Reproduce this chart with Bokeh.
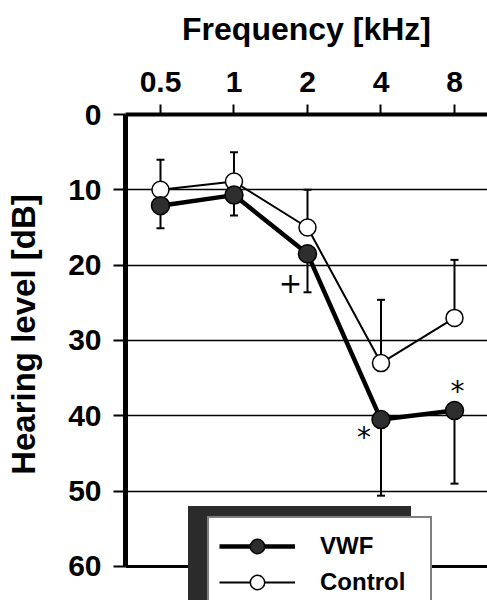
import numpy as np
from bokeh.plotting import figure
from bokeh.models import (Range1d, FixedTicker, Whisker, TeeHead, Span,
                          ColumnDataSource, Legend, LegendItem)
from bokeh.core.properties import value
from bokeh.embed import file_html
from bokeh.resources import INLINE

# ---------------- data ----------------
freq_khz = [0.5, 1, 2, 4, 8]
freq_labels = ["0.5", "1", "2", "4", "8"]
vwf_mean = [12.1, 10.7, 18.5, 40.5, 39.3]
vwf_sd = [3.0, 2.7, 5.1, 10.1, 9.7]
control_mean = [10.0, 8.9, 15.0, 33.0, 27.0]
control_sd = [4.0, 3.9, 5.0, 8.4, 7.7]
level_ticks = [0, 10, 20, 30, 40, 50, 60]
sig_freq = [2, 4, 8]
sig_mark = ["+", "*", "*"]

# ---------------- styling ----------------
FONT = "Liberation Sans"
sig_dx = [-17, -17, 3]
sig_dy = [29, 18, -19]

src = ColumnDataSource(dict(
    f=freq_khz,
    vm=vwf_mean,
    vlo=[m + s for m, s in zip(vwf_mean, vwf_sd)],
    cm=control_mean,
    chi=[m - s for m, s in zip(control_mean, control_sd)],
))

x_lo = 2 ** -1.476
x_hi = 2 ** 3.449
y_bottom = level_ticks[-1] + 34 / 7.533   # frame runs past the 60 dB line to the page bottom

p = figure(width=487, height=600, x_axis_type="log", x_axis_location="above",
           x_range=Range1d(x_lo, x_hi), y_range=Range1d(y_bottom, level_ticks[0]),
           output_backend="svg", toolbar_location=None,
           min_border_left=125, min_border_top=114, min_border_right=0,
           min_border_bottom=0)
p.outline_line_color = None
p.background_fill_color = "white"
p.border_fill_color = "white"

# top axis
xa = p.xaxis[0]
xa.ticker = FixedTicker(ticks=freq_khz)
xa.major_label_overrides = {f: l for f, l in zip(freq_khz, freq_labels)}
xa.axis_label = "Frequency [kHz]"
xa.axis_label_text_font = FONT
xa.axis_label_text_font_style = "bold"
xa.axis_label_text_font_size = "32px"
xa.axis_label_text_color = "black"
xa.axis_label_standoff = 22
xa.major_label_text_font = FONT
xa.major_label_text_font_style = "bold"
xa.major_label_text_font_size = "30px"
xa.major_label_text_color = "black"
xa.major_label_standoff = 13
xa.axis_line_width = 4
xa.axis_line_color = "black"
xa.major_tick_out = 10
xa.major_tick_in = 0
xa.major_tick_line_width = 2
xa.major_tick_line_color = "black"
xa.minor_tick_out = 0
xa.minor_tick_in = 0
xa.minor_tick_line_color = None

# left axis (label padded with no-break spaces so it centres on the 0-60 dB span)
ya = p.yaxis[0]
ya.ticker = FixedTicker(ticks=level_ticks)
ya.bounds = (level_ticks[0], level_ticks[-1])
ya.axis_label = "\u00a0" * 5 + "Hearing level [dB]"
ya.axis_label_text_font = FONT
ya.axis_label_text_font_style = "bold"
ya.axis_label_text_font_size = "33px"
ya.axis_label_text_color = "black"
ya.axis_label_standoff = 23
ya.major_label_text_font = FONT
ya.major_label_text_font_style = "bold"
ya.major_label_text_font_size = "30px"
ya.major_label_text_color = "black"
ya.major_label_standoff = 12
ya.axis_line_width = 5
ya.axis_line_color = "black"
ya.major_tick_out = 12
ya.major_tick_in = 0
ya.major_tick_line_width = 2
ya.major_tick_line_color = "black"
ya.minor_tick_line_color = None

p.xgrid.visible = False
p.ygrid.ticker = FixedTicker(ticks=level_ticks)
p.ygrid.grid_line_color = "black"
p.ygrid.grid_line_width = 1.5

# bottom frame line at the 60 dB limit
p.add_layout(Span(location=level_ticks[-1], dimension="width",
                  line_color="black", line_width=3))

# error bars
cw = Whisker(base="f", lower="cm", upper="chi", source=src, dimension="height",
             line_width=2, line_color="black", lower_head=None,
             upper_head=TeeHead(size=8, line_width=2), level="underlay")
vw = Whisker(base="f", lower="vm", upper="vlo", source=src, dimension="height",
             line_width=2, line_color="black", lower_head=None,
             upper_head=TeeHead(size=8, line_width=2), level="underlay")
p.add_layout(cw)
p.add_layout(vw)

# lines and markers
c_line = p.line("f", "cm", source=src, line_color="black", line_width=2)
v_line = p.line("f", "vm", source=src, line_color="black", line_width=4.5)
c_pts = p.scatter("f", "cm", source=src, size=17, fill_color="white",
                  line_color="black", line_width=1.5)
v_pts = p.scatter("f", "vm", source=src, size=18, fill_color="#2e2e2e",
                  line_color="black", line_width=1.5)

# significance marks
sig_y = [vwf_mean[freq_khz.index(f)] for f in sig_freq]
p.text(x=sig_freq, y=sig_y, text=sig_mark, x_offset=sig_dx, y_offset=sig_dy,
       text_align="center", text_baseline="middle",
       text_font=value("DejaVu Sans"), text_font_size="28px", text_color="black")

# legend with shadow (shadow = a text-less copy of the legend box)
dummy = p.line(x=[], y=[], line_alpha=0)
common = dict(glyph_width=76, glyph_height=36, label_height=36, label_width=100,
              label_standoff=25, padding=10, spacing=-1, margin=0,
              label_text_font=FONT, label_text_font_style="bold",
              label_text_font_size="24px")
shadow = Legend(items=[LegendItem(label="", renderers=[dummy]),
                       LegendItem(label="", renderers=[dummy])],
                location=(63, 0), background_fill_color="#2b2b2b",
                background_fill_alpha=1, border_line_color="#2b2b2b",
                label_text_color="#2b2b2b", **common)
main = Legend(items=[LegendItem(label="VWF", renderers=[v_line, v_pts]),
                     LegendItem(label="Control", renderers=[c_line, c_pts])],
              location=(82, -12), background_fill_color="white",
              background_fill_alpha=1, border_line_color="black",
              border_line_width=2, label_text_color="black", **common)
p.add_layout(shadow, "center")
p.add_layout(main, "center")

open("out.html", "w").write(file_html(p, INLINE))
